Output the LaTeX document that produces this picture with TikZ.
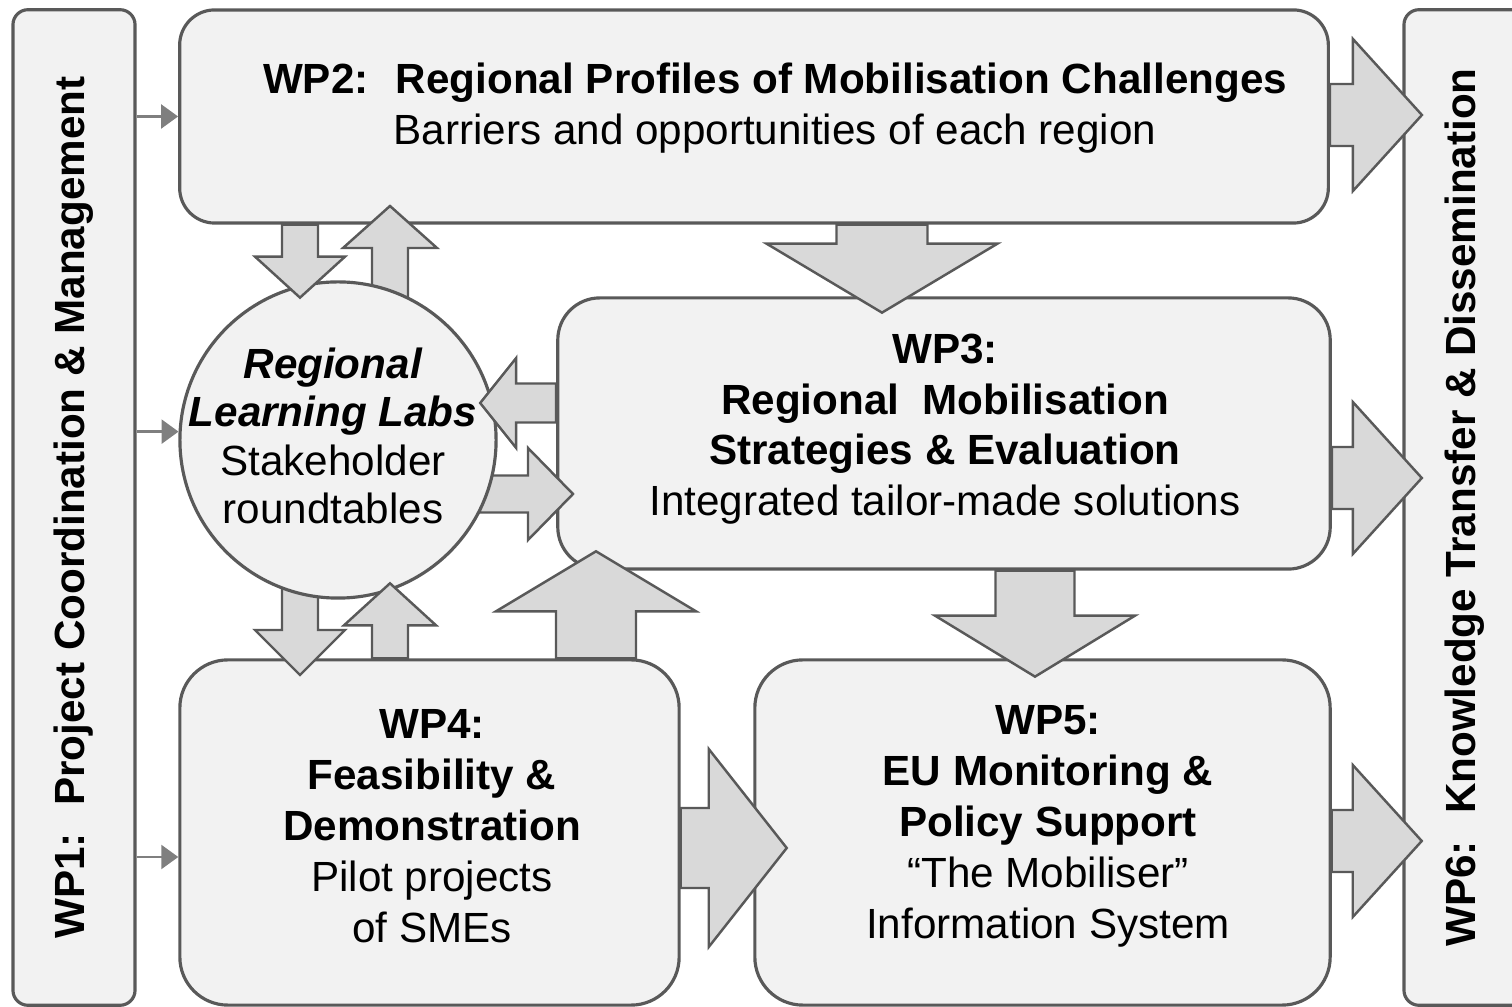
\documentclass[tikz,border=0pt]{standalone}
\usepackage{fontspec}
\setmainfont{Liberation Sans}
\usetikzlibrary{arrows.meta,calc}
\definecolor{boxgray}{HTML}{F2F2F2}
\definecolor{edgegray}{HTML}{595959}
\definecolor{fatgray}{HTML}{D9D9D9}
\definecolor{linegray}{HTML}{7F7F7F}
% tail, angle, length, shaft half width, head length, head half width
\newcommand{\fatarrow}[6]{%
  \draw[fat, shift={#1}, rotate=#2] (0,-#4) -- (#3-#5,-#4) -- (#3-#5,-#6) -- (#3,0)
    -- (#3-#5,#6) -- (#3-#5,#4) -- (0,#4) -- cycle;}

\begin{document}
\begin{tikzpicture}[x=0.01cm,y=-0.01cm,
    box/.style={draw=edgegray,fill=boxgray,line width=0.9pt,align=center,
      font=\fontsize{12pt}{14.4pt}\selectfont},
    txt/.style={align=center,font=\fontsize{12pt}{14.4pt}\selectfont},
    fat/.style={draw=edgegray,fill=fatgray,line width=0.7pt,line join=miter},
    thinarrow/.style={draw=linegray,line width=0.7pt,-{Triangle[length=0.17cm,width=0.24cm]}}]
  \clip (0,0) rectangle (1512,1007);
  \node[box,rotate=90,rounded corners=0.15cm,minimum width=9.95cm,minimum height=1.22cm]
    (wp1) at (74,507.5) {\textbf{WP1:~ Project Coordination \& Management}};
  \node[box,rotate=90,rounded corners=0.15cm,minimum width=9.95cm,minimum height=1.22cm]
    (wp6) at (1465,507.5) {\textbf{WP6:~ Knowledge Transfer \& Dissemination}};
  \node[box,rounded corners=0.35cm,minimum width=11.48cm,minimum height=2.13cm]
    (wp2) at (754,116.5) {};
  \node[txt] (wp2text) at (775,108)
    {\textbf{WP2:~ Regional Profiles of Mobilisation Challenges}\\
     Barriers and opportunities of each region};
  \node[box,rounded corners=0.42cm,minimum width=7.72cm,minimum height=2.71cm]
    (wp3) at (944,433.5) {};
  \node[txt] (wp3text) at (945,429) {\textbf{WP3:}\\ \textbf{Regional~ Mobilisation}\\
     \textbf{Strategies \& Evaluation}\\ Integrated tailor-made solutions};
  \node[box,rounded corners=0.48cm,minimum width=4.99cm,minimum height=3.45cm]
    (wp4) at (429.5,832.5) {};
  \node[txt,font=\fontsize{12pt}{14.5pt}\selectfont] (wp4text) at (432,826)
    {\textbf{WP4:}\\ \textbf{Feasibility \&}\\ \textbf{Demonstration}\\ Pilot projects\\ of SMEs};
  \node[box,rounded corners=0.48cm,minimum width=5.75cm,minimum height=3.45cm]
    (wp5) at (1042.5,832.5) {};
  \node[txt,font=\fontsize{12pt}{14.5pt}\selectfont] (wp5text) at (1048,826)
    {\textbf{WP5:}\\ \textbf{EU Monitoring \&}\\ \textbf{Policy Support}\\ “The Mobiliser”\\ Information System};

  \fatarrow{($(338,440)+(52,-140)$)}{90}{94}{18}{42}{47}
  \fatarrow{($(338,440)+(142,54)$)}{0}{93}{18.5}{45}{46}
  \fatarrow{($(338,440)+(-38,145)$)}{-90}{90}{18}{45}{45}
  \node[box,circle,minimum size=3.16cm,inner sep=0pt] (rll) at (338,440) {};
  \node[txt,font=\fontsize{12pt}{13.7pt}\selectfont] (rlltext) at (333,436)
    {\textbf{\textit{Regional}}\\ \textbf{\textit{Learning Labs}}\\ Stakeholder\\ roundtables};

  \fatarrow{(300,0 |- wp2.south)}{-90}{73}{18}{41}{45}
  \fatarrow{(882,0 |- wp2.south)}{-90}{88}{45.5}{69}{115.5}
  \fatarrow{(wp3.west |- 0,403)}{180}{76}{19.5}{36}{45}
  \fatarrow{(390,0 |- wp4.north)}{90}{75}{18}{42}{46}
  \fatarrow{(596,0 |- wp4.north)}{90}{107}{40}{60}{100}
  \fatarrow{(1035,0 |- wp3.south)}{-90}{106}{39.5}{61}{100}
  \fatarrow{(wp4.east |- 0,848)}{0}{106}{40}{78}{99}
  \fatarrow{(wp2.east |- 0,115)}{0}{92}{31}{69}{76}
  \fatarrow{(wp3.east |- 0,478)}{0}{90}{31}{69}{76}
  \fatarrow{(wp5.east |- 0,841)}{0}{90}{31}{69}{76}

  \draw[thinarrow] (wp1.south |- wp2.west) -- (wp2.west);
  \draw[thinarrow] (wp1.south |- rll.177) -- (rll.177);
  \draw[thinarrow] (wp1.south |- 0,857) -- (wp4.west |- 0,857);
\end{tikzpicture}
\end{document}
